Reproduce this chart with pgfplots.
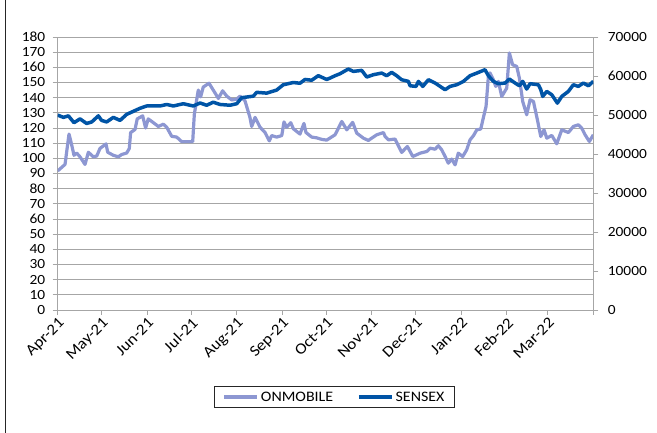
\documentclass[border=0pt]{standalone}
\usepackage{pgfplots}
\pgfplotsset{compat=1.18}
\usepackage{fontspec}
\setmainfont{Carlito}[FakeStretch=1.1]
\definecolor{onm}{HTML}{8D97D2}
\definecolor{sen}{HTML}{0054A6}
\definecolor{axgray}{HTML}{A6A6A6}
\pgfplotstableread{
d v
0 91.7
5 96
7.7 116
9.5 109
11.1 102
12.9 103.5
15.2 101
18.6 96
20.9 104
24.3 101
26.6 101.5
28.8 106.5
32.9 109.5
34.1 104
37.9 102
41.3 101
43.6 102.5
47 103.5
48.8 106.5
49.7 117
52.7 119
54.2 126
57.9 128
59.9 120
61.7 126
65.2 123.5
68.6 121
72 122.5
74.3 120.5
77.7 114.5
81.1 114
84.5 111
90.2 111
92 111
93.1 129
95.8 145
97.4 140.5
99.2 147
103.1 149.5
106 145
109.5 139.5
112.4 144.5
115.2 141
118.6 138.5
122 139
124.2 141
127.6 138
131 127
132.2 121
134.5 127
137.9 120.5
141.3 117
144.2 111.5
145.8 115
149.2 114
152.7 115
154.2 124
156.1 120.5
158.8 123.5
160.6 119.5
165.1 116
167.8 123
169.2 117
173.1 114
176.5 113.5
179.9 112.5
183.3 112
189 115.5
193.6 124.3
197 118.8
201 123.7
203.8 116.6
208.3 113.3
211.7 111.8
217.4 115.5
222 117
223.1 114.4
225.4 112.2
229.9 112.7
234.4 103.9
238.3 107.8
242 101.2
247 103.4
251.5 104.5
253.8 106.7
257.2 106
259.4 108.3
261.7 105.6
264 101.2
266.2 96.8
268.5 99.5
270.8 95.7
273 103.4
276 101.2
278.7 105.6
281 112.2
283.3 114.9
285.6 118.8
288.3 119.3
290 126.5
291.9 134.2
293.5 154
294.6 156.3
296.9 151.8
298.5 147.4
300.3 150.7
302.6 140.8
306 146.3
307.8 169.5
310 161.7
312.8 160.6
314.6 153
316.9 137.5
319.6 128.7
321.9 138.6
324.2 137.5
326.9 125.4
329.2 114.4
331.4 118.8
333.3 113.3
336.7 115.1
340.1 109.6
343.5 118.8
348 117
351.4 121
354.8 122.1
357.1 119.9
359.4 115.5
362.3 111.1
365 115.5
}\onmobile
\pgfplotstableread{
d v
0 49970
3.9 49390
7.3 49780
11.1 48030
15.2 49000
19.7 47830
23.2 48220
27.7 49780
29.9 48610
33.4 48220
37.9 49390
42.5 48610
47 50170
51.6 50950
56.1 51720
60.6 52310
69.7 52310
74.3 52700
78.8 52310
85.6 52890
92.4 52310
97 53080
101.5 52500
106 53280
110.6 52700
117.4 52500
122 52890
125.4 54440
133.3 54830
135.6 55810
142.4 55610
149.2 56390
153.7 57750
160.6 58330
165.1 58140
168.5 59110
173.1 58920
177.6 60080
183.3 59110
185.6 59470
189 60070
192.4 60580
198 61780
201.5 61180
207.2 61440
210.6 59730
215.1 60330
220.8 60750
224.2 60070
227.6 60930
231 60070
234.4 59040
239 58620
240.1 57500
244.2 57330
245.8 58620
248.8 57330
252.6 59040
257.2 58190
264 56480
267.4 57330
271.9 57760
276.5 58620
281 60070
285.6 60750
291.2 61610
293.5 60070
296.9 58620
300.3 58020
304.9 58190
307.8 59210
311.7 58190
314.6 57500
316.9 58620
319.6 56650
321.9 58020
327.6 57760
329.2 56480
330.5 54760
333.3 56050
336.7 55190
340.5 53050
343.5 54760
348 56050
351.4 57760
354.8 57330
358.2 58190
361.7 57500
365 58620
}\sensex
\pgfplotsset{
  common/.style={
    at={(57.7bp,123bp)}, anchor=south west, scale only axis,
    width=535.6bp, height=273bp, xmin=0, xmax=365,
    font=\fontsize{14bp}{16bp}\selectfont,
    /pgf/number format/assume math mode=true,
    /pgf/number format/set thousands separator={},
    scaled ticks=false,
    axis line style={axgray, line width=0.8bp},
    tick style={axgray, line width=0.8bp},
    tick align=outside, major tick length=5bp,
  }
}
\begin{document}
\begin{tikzpicture}[x=1bp,y=1bp]
\useasboundingbox (0,0) rectangle (657,433);
\draw[black!85, line width=0.8bp] (5,0) -- (5,433);
\begin{axis}[common,
  ymin=0, ymax=180, ytick distance=10,
  axis y line*=left, axis x line*=bottom,
  ymajorgrids, grid style={axgray, line width=0.8bp},
  yticklabel style={xshift=-4bp},
  xtick={0,30,61,91,122,153,183,214,244,275,306,334,365},
  xticklabels={Apr-21,May-21,Jun-21,Jul-21,Aug-21,Sep-21,Oct-21,Nov-21,Dec-21,Jan-22,Feb-22,Mar-22,},
  xticklabel style={rotate=45, anchor=north east, inner sep=1bp, font=\fontsize{15.5bp}{17bp}\selectfont},
]
\addplot[onm, line width=3.2bp, line join=round] table[x=d,y=v] {\onmobile};
\end{axis}
\begin{axis}[common,
  ymin=0, ymax=70000, ytick distance=10000,
  axis y line*=right, axis x line=none,
  yticklabel style={xshift=6bp},
  legend style={at={(0.517,-0.319)}, anchor=center, draw=black!85, line width=0.8bp,
    font=\fontsize{14.5bp}{16bp}\selectfont, inner xsep=8bp, inner ysep=3bp},
  legend columns=2,
  legend image code/.code={\draw[#1] (0,0) -- (33bp,0);},
  /tikz/every even column/.append style={column sep=22bp},
]
\addlegendimage{onm, line width=3.2bp}
\addlegendentry{ONMOBILE}
\addplot[sen, line width=3.5bp, line join=round] table[x=d,y=v] {\sensex};
\addlegendentry{SENSEX}
\end{axis}
\end{tikzpicture}
\end{document}
